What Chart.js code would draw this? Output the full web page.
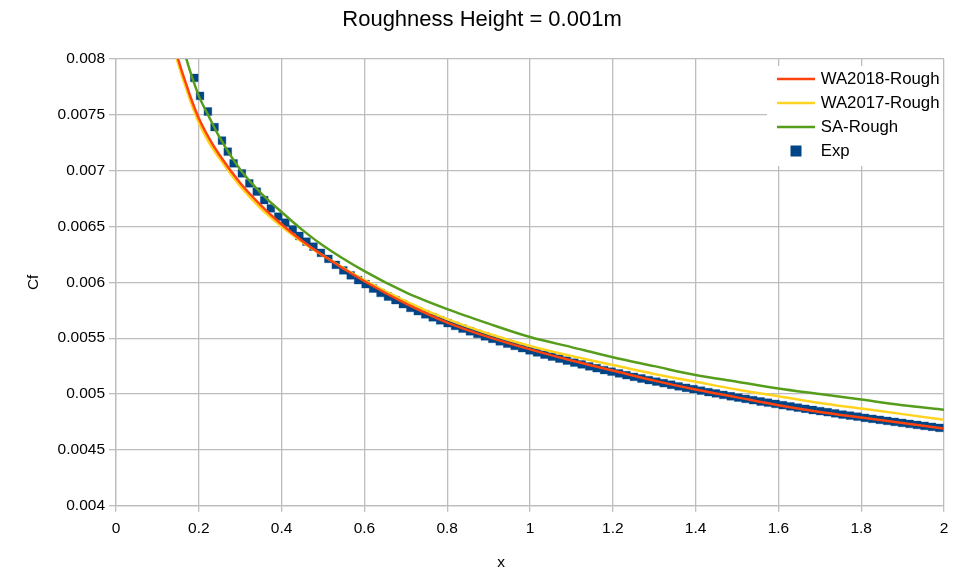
<!DOCTYPE html>
<html>
<head>
<meta charset="utf-8">
<title>Roughness Height = 0.001m</title>
<script src="https://cdn.jsdelivr.net/npm/chart.js@4/dist/chart.umd.min.js"></script>
<style>
  html, body { margin: 0; padding: 0; background: #ffffff; }
  #wrap { width: 953px; height: 575px; }
</style>
</head>
<body>
<div id="wrap"><canvas id="cf" width="953" height="575"></canvas></div>
<script>
// Skin-friction coefficient along the plate, rough wall (k = 0.001 m)
const chartTitle = 'Roughness Height = 0.001m';
const xAxisTitle = 'x';
const yAxisTitle = 'Cf';
const xTickLabels = ['0', '0.2', '0.4', '0.6', '0.8', '1', '1.2', '1.4', '1.6', '1.8', '2'];
const yTickLabels = ['0.004', '0.0045', '0.005', '0.0055', '0.006', '0.0065', '0.007', '0.0075', '0.008'];
const seriesNames = ['WA2018-Rough', 'WA2017-Rough', 'SA-Rough', 'Exp'];

// Model curves (x stations shared by the two WA models)
const waX = [0.14, 0.15, 0.16, 0.17, 0.18, 0.2, 0.225, 0.25, 0.3, 0.35, 0.4, 0.45, 0.5, 0.6, 0.7, 0.8, 0.9, 1.0,
             1.1, 1.2, 1.3, 1.4, 1.5, 1.6, 1.7, 1.8, 1.9, 2.0];
const wa2018Cf = [0.00813, 0.00800, 0.00788, 0.00777, 0.00766, 0.00747, 0.00729, 0.00714, 0.00689, 0.00669, 0.00652,
                  0.00637, 0.00624, 0.00601, 0.00581, 0.00564, 0.00551, 0.00540, 0.00530, 0.00521, 0.00512, 0.00504,
                  0.00497, 0.00490, 0.00484, 0.00479, 0.00474, 0.00469];
const wa2017Cf = [0.00809, 0.00796, 0.00784, 0.00773, 0.00762, 0.00743, 0.00725, 0.00711, 0.00686, 0.00666, 0.00650,
                  0.00636, 0.00624, 0.00602, 0.00583, 0.00567, 0.00554, 0.00543, 0.00534, 0.00526, 0.00518, 0.00511,
                  0.00504, 0.00498, 0.00492, 0.00487, 0.00482, 0.00477];
const saX = [0.16, 0.17, 0.18, 0.2, 0.225, 0.25, 0.3, 0.35, 0.4, 0.45, 0.5, 0.6, 0.7, 0.8, 0.9, 1.0,
             1.1, 1.2, 1.3, 1.4, 1.5, 1.6, 1.7, 1.8, 1.9, 2.0];
const saCf = [0.00814, 0.00800, 0.00788, 0.00767, 0.00748, 0.00730, 0.00701, 0.00680, 0.00663, 0.00647, 0.00633,
              0.00610, 0.00591, 0.00576, 0.00563, 0.00551, 0.00542, 0.00533, 0.00525, 0.00517, 0.00511, 0.00505,
              0.00500, 0.00495, 0.00490, 0.00486];

// Measurements
const expX = [0.189, 0.203, 0.222, 0.238, 0.256, 0.270, 0.284, 0.304, 0.322, 0.340, 0.358, 0.374, 0.392, 0.409,
              0.427, 0.443, 0.460, 0.477, 0.495, 0.513, 0.531, 0.549, 0.567, 0.585, 0.603, 0.621, 0.639, 0.657,
              0.675, 0.693, 0.711, 0.729, 0.747, 0.765, 0.783, 0.801, 0.819, 0.837, 0.855, 0.873, 0.891, 0.909,
              0.927, 0.945, 0.963, 0.981, 0.999, 1.017, 1.035, 1.053, 1.071, 1.089, 1.107, 1.125, 1.143, 1.161,
              1.179, 1.197, 1.215, 1.233, 1.251, 1.269, 1.287, 1.305, 1.323, 1.341, 1.359, 1.377, 1.395, 1.413,
              1.431, 1.449, 1.467, 1.485, 1.503, 1.521, 1.539, 1.557, 1.575, 1.593, 1.611, 1.629, 1.647, 1.665,
              1.683, 1.701, 1.719, 1.737, 1.755, 1.773, 1.791, 1.809, 1.827, 1.845, 1.863, 1.881, 1.899, 1.917,
              1.935, 1.953, 1.971, 1.989];
const expCf = [0.007830, 0.007670, 0.007530, 0.007390, 0.007270, 0.007170, 0.007066, 0.006976, 0.006887, 0.006812,
               0.006737, 0.006663, 0.006588, 0.006534, 0.006475, 0.006415, 0.006364, 0.006320, 0.006264, 0.006210,
               0.006157, 0.006107, 0.006063, 0.006020, 0.005984, 0.005944, 0.005905, 0.005872, 0.005841, 0.005805,
               0.005771, 0.005742, 0.005714, 0.005687, 0.005660, 0.005635, 0.005610, 0.005585, 0.005562, 0.005538,
               0.005516, 0.005494, 0.005472, 0.005451, 0.005431, 0.005411, 0.005391, 0.005372, 0.005353, 0.005335,
               0.005317, 0.005299, 0.005281, 0.005265, 0.005248, 0.005231, 0.005215, 0.005200, 0.005184, 0.005169,
               0.005154, 0.005139, 0.005125, 0.005111, 0.005097, 0.005083, 0.005069, 0.005056, 0.005043, 0.005030,
               0.005017, 0.005005, 0.004992, 0.004980, 0.004968, 0.004956, 0.004945, 0.004933, 0.004922, 0.004911,
               0.004900, 0.004889, 0.004878, 0.004868, 0.004857, 0.004847, 0.004837, 0.004826, 0.004816, 0.004807,
               0.004797, 0.004787, 0.004778, 0.004769, 0.004759, 0.004750, 0.004741, 0.004732, 0.004723, 0.004715,
               0.004706, 0.004697];

const pairs = (xs, ys) => xs.map((x, i) => ({ x: x, y: ys[i] }));
const FONT = '"Liberation Sans", Arial, Helvetica, sans-serif';

const lineStyle = (color) => ({
  showLine: true,
  borderColor: color,
  backgroundColor: color,
  borderWidth: 2.5,
  pointRadius: 0,
  pointHoverRadius: 0,
  cubicInterpolationMode: 'monotone',
  fill: false
});

// Legend box in the upper right corner of the plot area, plus the x-axis caption
const cornerLegend = {
  id: 'cornerLegend',
  afterDraw(chart) {
    const { ctx, chartArea } = chart;
    const boxW = 176, boxH = 100;
    const left = chartArea.right - boxW - 1;
    const top = chartArea.top + 7;
    ctx.save();
    ctx.fillStyle = '#ffffff';
    ctx.fillRect(left, top, boxW, boxH);
    ctx.font = '16.8px ' + FONT;
    ctx.textBaseline = 'middle';
    ctx.textAlign = 'left';
    chart.data.datasets.forEach((ds, i) => {
      const y = top + 13 + i * 24;
      if (ds.showLine) {
        ctx.strokeStyle = ds.borderColor;
        ctx.lineWidth = 2.5;
        ctx.beginPath();
        ctx.moveTo(left + 10, y);
        ctx.lineTo(left + 48, y);
        ctx.stroke();
      } else {
        ctx.fillStyle = ds.backgroundColor;
        ctx.fillRect(left + 23.5, y - 5.5, 11, 11);
      }
      ctx.fillStyle = '#000000';
      ctx.fillText(ds.label, left + 53.7, y);
    });

    // x-axis caption sits left of the plot centre
    ctx.font = '15.5px ' + FONT;
    ctx.textAlign = 'center';
    ctx.textBaseline = 'middle';
    ctx.fillStyle = '#000000';
    ctx.fillText(xAxisTitle, chartArea.left + 385, chart.height - 12);
    ctx.restore();
  }
};

new Chart(document.getElementById('cf'), {
  type: 'scatter',
  data: {
    datasets: [
      Object.assign({ label: seriesNames[0], data: pairs(waX, wa2018Cf) }, lineStyle('#ff420e')),
      Object.assign({ label: seriesNames[1], data: pairs(waX, wa2017Cf) }, lineStyle('#ffd320')),
      Object.assign({ label: seriesNames[2], data: pairs(saX, saCf) }, lineStyle('#579d1c')),
      {
        label: seriesNames[3],
        data: pairs(expX, expCf),
        showLine: false,
        pointStyle: 'rect',
        pointRadius: 5.5,
        pointHoverRadius: 5.5,
        backgroundColor: '#004586',
        borderColor: 'rgba(0,69,134,0.55)',
        borderWidth: 0.6
      }
    ]
  },
  options: {
    responsive: false,
    animation: false,
    devicePixelRatio: 1,
    layout: { padding: { left: 20, right: 9, top: 0, bottom: 0 } },
    plugins: {
      legend: { display: false },
      tooltip: { enabled: false },
      title: {
        display: true,
        text: chartTitle,
        color: '#000000',
        font: { family: FONT, size: 22, weight: 'normal', lineHeight: 1.2 },
        padding: { top: 7, bottom: 25.6 }
      }
    },
    scales: {
      x: {
        type: 'linear',
        min: 0,
        max: 2,
        ticks: {
          stepSize: 0.2,
          color: '#000000',
          padding: 8,
          maxRotation: 0,
          font: { family: FONT, size: 15.5 },
          callback: (v, i) => xTickLabels[i]
        },
        grid: { color: '#bdbdbd', lineWidth: 1.3, tickLength: 6, drawTicks: true },
        border: { display: true, color: '#bdbdbd', width: 1.3 },
        title: { display: false },
        afterFit: (scale) => {
          scale.height = 69.3;
          scale.paddingLeft = 0;
          scale.paddingRight = 0;
        }
      },
      y: {
        type: 'linear',
        min: 0.004,
        max: 0.008,
        ticks: {
          stepSize: 0.0005,
          color: '#000000',
          padding: 4,
          font: { family: FONT, size: 15.5 },
          callback: (v, i) => yTickLabels[i]
        },
        grid: { color: '#bdbdbd', lineWidth: 1.3, tickLength: 7, drawTicks: true },
        border: { display: true, color: '#bdbdbd', width: 1.3 },
        title: {
          display: true,
          text: yAxisTitle,
          color: '#000000',
          font: { family: FONT, size: 15.5 },
          padding: { top: 4, bottom: 0 }
        },
        afterFit: (scale) => { scale.width = 96; }
      }
    }
  },
  plugins: [cornerLegend]
});
</script>
</body>
</html>
